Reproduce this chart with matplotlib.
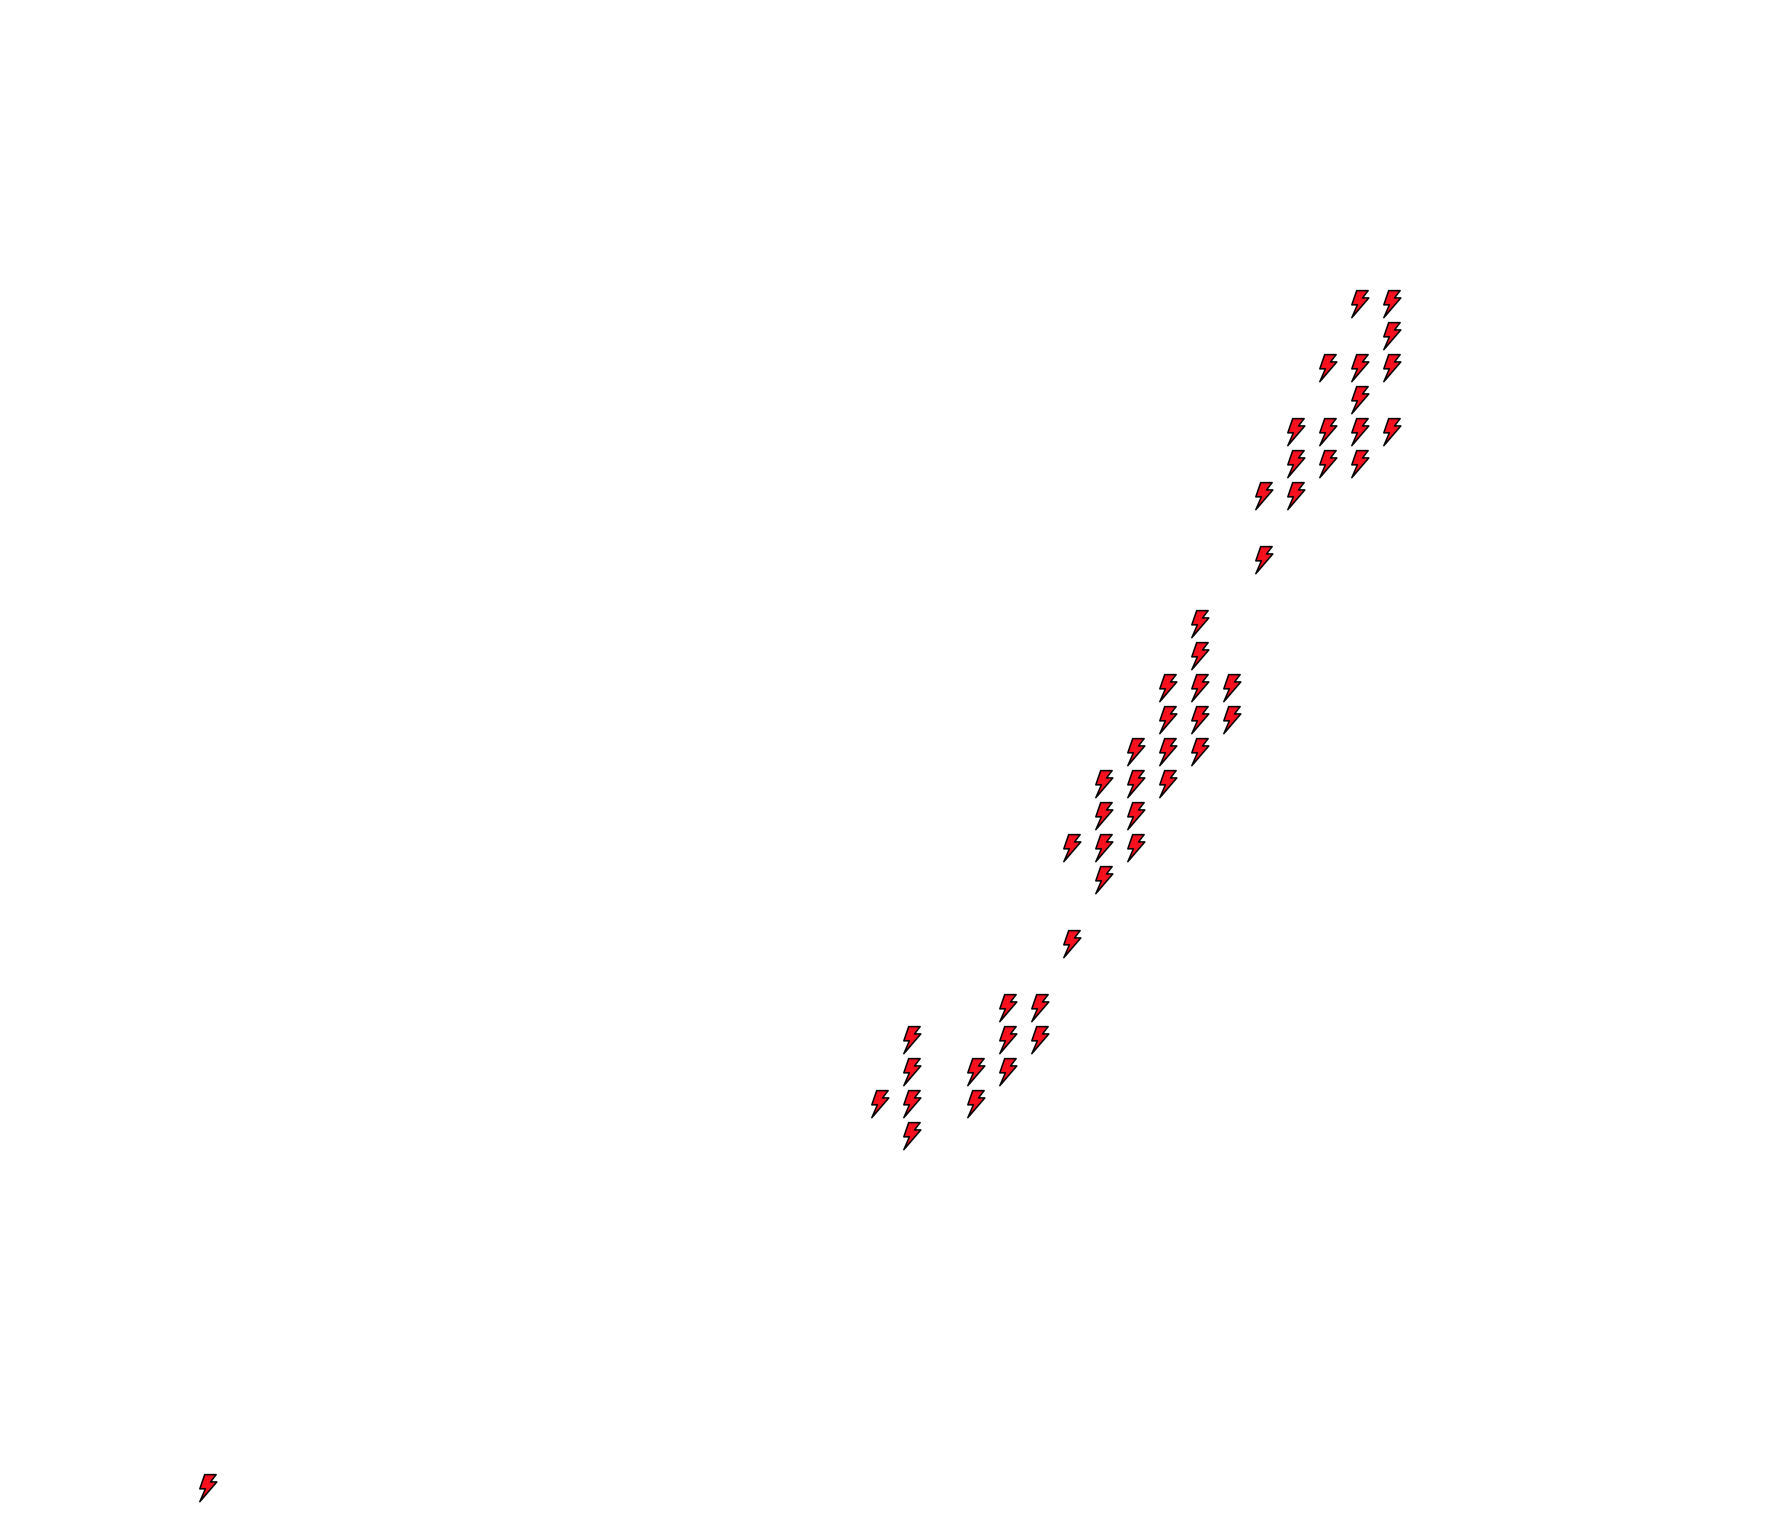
import numpy as np
import matplotlib
matplotlib.use("Agg")
import matplotlib.pyplot as plt
from matplotlib.path import Path

cols = [42, 43, 43, 41, 42, 43, 42, 40, 41, 42, 43, 40, 41, 42, 39, 40, 39,
        37, 37, 36, 37, 38, 36, 37, 38, 35, 36, 37, 34, 35, 36, 34, 35,
        33, 34, 35, 34, 33, 31, 32, 28, 31, 32, 28, 30, 31, 27, 28, 30, 28, 6]
rows = [9, 9, 10, 11, 11, 11, 12, 13, 13, 13, 13, 14, 14, 14, 15, 15, 17,
        19, 20, 21, 21, 21, 22, 22, 22, 23, 23, 23, 24, 24, 24, 25, 25,
        26, 26, 26, 27, 29, 31, 31, 32, 32, 32, 33, 33, 33, 34, 34, 34, 35, 46]

# lightning bolt outline, y up
bolt = Path(np.array([(-11, 40), (22, 40), (6, 19), (24, 19), (-25, -38),
                      (-9, -1), (-25, -1), (-11, 40)]) / 3.0, closed=True)

fig = plt.figure(figsize=(17.92, 15.36), dpi=100)
ax = fig.add_axes([0, 0, 1, 1])
ax.plot(cols, rows, linestyle="none", marker=bolt, markersize=20,
        markerfacecolor="#f8101f", markeredgecolor="black", markeredgewidth=1.1)
ax.set_xlim(-0.5, 55.5)
ax.set_ylim(47.5, -0.5)
ax.axis("off")
fig.savefig("out.png", dpi=100, facecolor="white")
